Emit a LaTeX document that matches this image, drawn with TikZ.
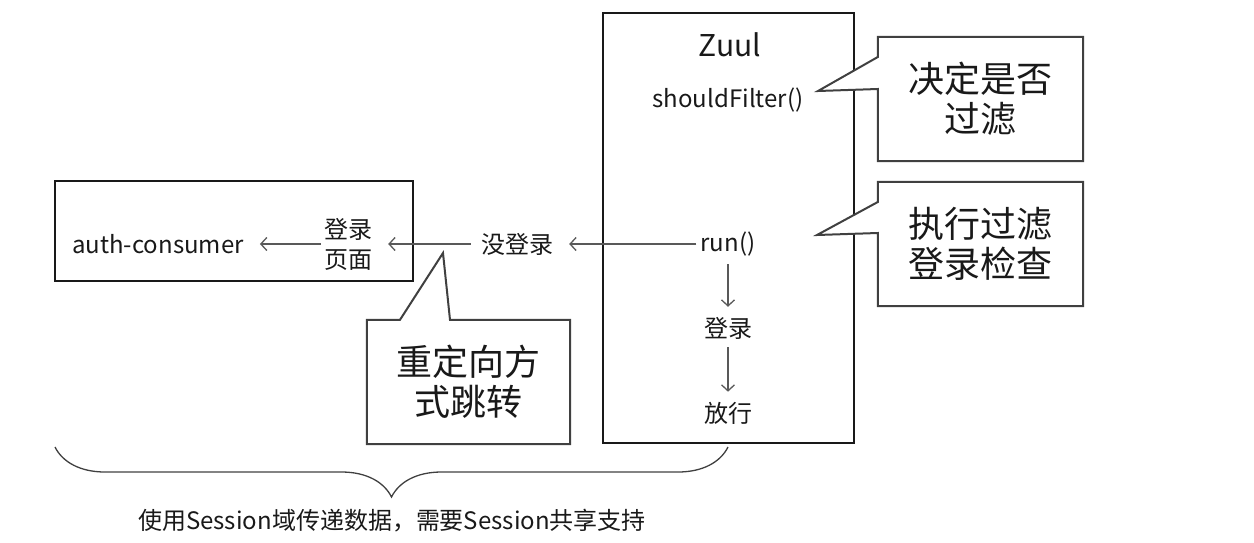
\documentclass[tikz,border=0pt]{standalone}
\usepackage{fontspec}
\setmainfont{Noto Sans CJK SC}
\usetikzlibrary{arrows.meta,decorations.pathreplacing}

\begin{document}
\begin{tikzpicture}[x=1pt,y=-1pt,
    txt/.style={font=\fontsize{24}{30}\selectfont, inner sep=2pt, align=center, text=black!90},
    big/.style={font=\fontsize{36}{40}\selectfont, align=center, text=black!90},
    flow/.style={draw=black!65, line width=1.3pt, -{Straight Barb[length=6pt,width=13pt]}},
    box/.style={draw=black!90, line width=1.3pt},
    note/.style={draw=black!75, line width=2pt, fill=white}]
            \useasboundingbox (0,0) rectangle (1254,542);
            % boxes
            \node[box, minimum width=251, minimum height=430] (zuul) at (728.5,228) {};
            \node[box, minimum width=358, minimum height=100] (authBox) at (234,231) {};
            \node[txt, font=\fontsize{30}{34}\selectfont] (zuulTitle) at (730,45) {Zuul};
            \node[txt] (shouldFilter) at (728,100) {shouldFilter()};
            \node[txt] (run) at (728,244) {run()};
            \node[txt] (login) at (728,328) {登录};
            \node[txt] (pass) at (728,413) {放行};
            \node[txt] (noLogin) at (517,244) {没登录};
            \node[txt] (loginPage) at (348,244) {登录\\页面};
            \node[txt] (auth) at (158,244) {auth-consumer};
            % arrows
            \draw[flow, shorten <=2pt, shorten >=14pt] (run) -- (noLogin);
            \draw[flow, shorten <=8pt, shorten >=14pt] (noLogin) -- (loginPage);
            \draw[flow, shorten <=1pt, shorten >=14pt] (loginPage) -- (auth);
            \draw[flow, shorten <=6pt, shorten >=8pt] (run) -- (login);
            \draw[flow, shorten <=6pt, shorten >=8pt] (login) -- (pass);
            % callouts
            \node[big, minimum width=205, minimum height=124] (filterNote) at (980.5,99) {};
            \coordinate (filterTip) at (818,91);
            \draw[note] (filterNote.north west) -- (filterNote.north east) -- (filterNote.south east)
                -- (filterNote.south west) -- ([yshift=10]filterNote.west) -- (filterTip)
                -- ([yshift=42]filterNote.west) -- cycle;
            \node[big] at (filterNote) {决定是否\\过滤};
            \node[big, minimum width=205, minimum height=124] (runNote) at (980.5,244) {};
            \coordinate (runTip) at (817,235);
            \draw[note] (runNote.north west) -- (runNote.north east) -- (runNote.south east)
                -- (runNote.south west) -- ([yshift=11]runNote.west) -- (runTip)
                -- ([yshift=42]runNote.west) -- cycle;
            \node[big] at (runNote) {执行过滤\\登录检查};
            \node[big, minimum width=203, minimum height=124] (redirectNote) at (468.5,382) {};
            \coordinate (redirectTip) at (443,253);
            \draw[note] ([xshift=-18.5]redirectNote.north) -- (redirectNote.north east) -- (redirectNote.south east)
                -- (redirectNote.south west) -- (redirectNote.north west) -- ([xshift=-68.5]redirectNote.north)
                -- (redirectTip) -- cycle;
            \node[big] at (redirectNote) {重定向方\\式跳转};
            % brace
            \coordinate (braceL) at (55,447);
            \coordinate (braceR) at (728,447);
            \draw[black!75, line width=1.3pt, decorate, decoration={brace, mirror, amplitude=50pt}] (braceL) -- (braceR);
            \node[txt] (session) at (392,521) {使用Session域传递数据，需要Session共享支持};
        \end{tikzpicture}
\end{document}
